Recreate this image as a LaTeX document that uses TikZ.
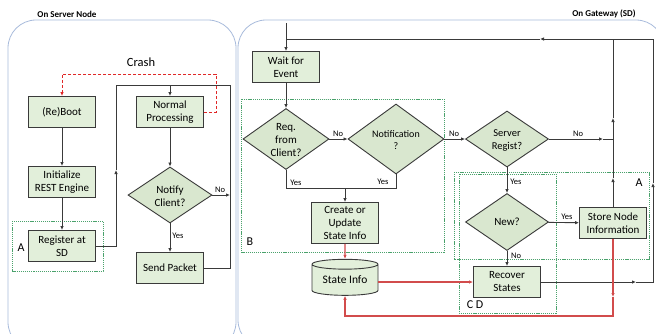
\documentclass[tikz,border=0pt]{standalone}
\usepackage{fontspec}
\setmainfont{Carlito}
\usetikzlibrary{shapes.geometric,arrows.meta}
\definecolor{boxfill}{HTML}{E2EFDA}
\definecolor{dfill}{HTML}{D9E7CF}
\definecolor{edge}{HTML}{3A3A3A}
\definecolor{panelc}{HTML}{A9BCDC}
\definecolor{dotgreen}{HTML}{4AA26C}
\definecolor{myred}{HTML}{E02828}
\definecolor{redline}{HTML}{D24C4C}
\begin{document}
\begin{tikzpicture}[x=1pt,y=-1pt,
  box/.style={draw=edge,fill=boxfill,line width=0.9pt,minimum width=67pt,minimum height=31pt,inner sep=0pt,align=center,font=\fontsize{11}{13}\selectfont},
  dia/.style={diamond,draw=edge,fill=dfill,line width=0.9pt,inner sep=0pt},
  dtext/.style={align=center,inner sep=0pt,font=\fontsize{11}{13}\selectfont},
  conn/.style={draw=edge,line width=0.9pt},
  arr/.style={conn,-{Latex[length=4pt,width=3.5pt]}},
  redarr/.style={draw=redline,line width=1.1pt,-{Latex[length=4pt,width=3.5pt]}},
  lab/.style={font=\fontsize{8.5}{10}\selectfont,inner sep=0pt},
  grp/.style={draw=dotgreen,dash pattern=on 1.2pt off 0.9pt,line width=0.6pt},
  grplab/.style={font=\fontsize{12}{14}\selectfont,inner sep=0pt},
  paneltitle/.style={font=\bfseries\fontsize{9}{11}\selectfont,inner sep=0pt}]
\useasboundingbox (0,0) rectangle (656,333);
\fill[white] (0,0) rectangle (656,333);
% panels
\begin{scope}
\clip (0,0) rectangle (656,333);
\draw[panelc,line width=0.8pt,rounded corners=28pt] (8,20) rectangle (236,350);
\draw[panelc,line width=0.8pt,rounded corners=28pt] (238,20) rectangle (664,348);
\end{scope}
\node[paneltitle] (t1) at (67,14) {On Server Node};
\node[paneltitle] (t2) at (604,14) {On Gateway (SD)};
\node[font=\fontsize{12.5}{14}\selectfont,inner sep=0pt] (crash) at (141,62) {Crash};

% groups
\draw[grp] (12,221) rectangle (103,271);
\node[grplab] (ga) at (21,248) {A};
\draw[grp] (241,99) rectangle (444,252);
\node[grplab] (gb) at (250,242) {B};
\draw[grp] (454,172) rectangle (649,259);
\node[grplab] (ga2) at (639,183) {A};
\draw[grp] (459,174) rectangle (556,313);
\node[grplab] (gcd) at (475,305) {C D};

% left nodes
\node[box] (boot) at (62,112) {(Re)Boot};
\node[box] (init) at (62,182) {Initialize\\REST Engine};
\node[box] (reg) at (62,246) {Register at\\SD};
\node[box] (np) at (170,112) {Normal\\Processing};
\node[dia,minimum width=84pt,minimum height=56pt] (notify) at (170,195) {};
\node[dtext] (notifyt) at (170,196) {Notify\\Client?};
\node[box] (send) at (170,268) {Send Packet};

% left connectors
\draw[arr] (boot) -- (init);
\draw[arr] (init) -- (reg);
\coordinate (lr1) at (116,170);
\coordinate (ltop) at (170,85);
\coordinate (lright) at (230,85);
\coordinate (nono) at (230,195);
\draw[arr] (reg.east) -| (lr1);
\draw[conn] (lr1) |- (ltop);
\draw[arr] (ltop) -- (np.north);
\draw[conn] (send.east) -| (lright) -- (ltop);
\draw[arr] (np) -- (notify);
\draw[arr] (notify) -- (send);
\draw[arr] (notify.east) -- (nono);
\node[lab] (lno1) at (220,190) {No};
\node[lab] (lyes1) at (178,236) {Yes};
\coordinate (cr1) at (216,74);
\draw[myred,densely dashed,line width=0.8pt,-{Latex[length=4pt,width=3.5pt]}] (np.east) -| (cr1) -| (boot.north);

% right nodes
\node[box] (wait) at (286,67) {Wait for\\Event};
\node[dia,minimum width=86pt,minimum height=61pt] (req) at (286,139) {};
\node[dtext] (reqt) at (286,140) {Req.\\from\\Client?};
\node[dia,minimum width=96pt,minimum height=70pt] (notif) at (396,139) {};
\node[dtext,font=\fontsize{10}{12}\selectfont] (notift) at (396,140) {Notification\\?};
\node[box,minimum height=41pt] (create) at (345,223) {Create or\\Update\\State Info};
\node[cylinder,shape border rotate=90,draw=edge,fill=boxfill,line width=0.9pt,aspect=0.22,minimum width=66pt,minimum height=36pt,inner sep=0pt,font=\fontsize{11.5}{13}\selectfont] (state) at (345,280) {State Info};
\node[dia,minimum width=83pt,minimum height=56pt] (sreg) at (507,139) {};
\node[dtext,font=\fontsize{10.5}{13}\selectfont] (sregt) at (507,140) {Server\\Regist?};
\node[dia,minimum width=83pt,minimum height=57pt] (new) at (507,222) {};
\node[dtext] (newt) at (507,222) {New?};
\node[box] (store) at (613,223) {Store Node\\Information};
\node[box] (recover) at (507,282) {Recover\\States};

% right connectors
\coordinate (rstub) at (286,23);
\coordinate (rj) at (286,39);
\draw[arr] (rstub) -- (wait.north);
\draw[arr] (wait) -- (req);
\draw[arr] (req.east) -- (notif.west);
\node[lab] (lno2) at (338,134) {No};
\coordinate (yj) at (345,188);
\draw[conn] (req.south) |- (yj);
\draw[conn] (notif.south) |- (yj);
\draw[arr] (yj) -- (create.north);
\node[lab] (lyes2) at (296,183) {Yes};
\node[lab] (lyes3) at (383,182) {Yes};
\draw[arr] (notif.east) -- (sreg.west);
\node[lab] (lno3) at (454,134) {No};
\coordinate (sn) at (603,139);
\coordinate (sj) at (613,139);
\draw[arr] (sreg.east) -- (sn);
\draw[conn] (sn) -- (sj);
\node[lab] (lno4) at (578,134) {No};
\draw[arr] (sreg) -- (new);
\node[lab] (lyes4) at (516,182) {Yes};
\draw[arr] (new) -- (store);
\node[lab] (lyes5) at (567,217) {Yes};
\draw[arr] (new) -- (recover);
\node[lab] (lno5) at (516,256) {No};
% store up to loop
\coordinate (su1) at (613,178);
\coordinate (su2) at (613,118);
\coordinate (su3) at (613,39);
\draw[arr] (store.north) -- (su1);
\draw[arr] (su1) -- (su2);
\draw[conn] (su2) -- (su3);
% recover loop
\coordinate (rl1) at (636,282);
\coordinate (rl2) at (653,183);
\coordinate (rl3) at (540,39);
\draw[arr] (recover.east) -- (rl1);
\draw[arr] (rl1) -| (rl2);
\draw[arr] (rl2) |- (rl3);
\draw[conn] (rl3) -- (rj);
% red
\draw[redarr] (create) -- (state);
\draw[redarr] (state.east |- recover.west) -- (recover.west);
\coordinate (rb1) at (613,297);
\coordinate (rb2) at (345,316);
\draw[redarr] (store.south) -- (rb1);
\draw[redarr] (rb1) |- (rb2) -- (state.south);
\end{tikzpicture}
\end{document}
